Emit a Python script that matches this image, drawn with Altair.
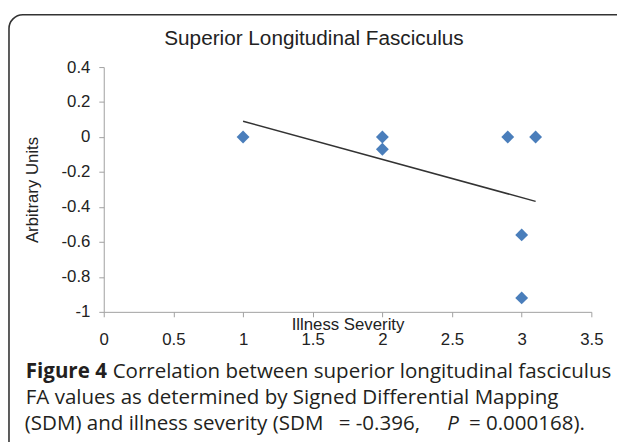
import altair as alt
import pandas as pd

# ---- data ----
severity = [1, 2, 2, 2.9, 3.1, 3, 3]
units = [0, 0, -0.07, 0, 0, -0.56, -0.92]
x_ticks = [0, 0.5, 1, 1.5, 2, 2.5, 3, 3.5]
y_ticks = [0.4, 0.2, 0, -0.2, -0.4, -0.6, -0.8, -1]
chart_title = "Superior Longitudinal Fasciculus"
x_title = "Illness Severity"
y_title = "Arbitrary Units"
cap1_bold = "Figure 4"
cap1_rest = "Correlation between superior longitudinal fasciculus"
cap2 = "FA values as determined by Signed Differential Mapping"
cap3_a = "(SDM) and illness severity (SDM"
cap3_b = "= -0.396,"
cap3_p = "P"
cap3_c = "= 0.000168)."

df = pd.DataFrame({"severity": severity, "units": units})

W, H = 494, 248
AXIS_FONT = "Liberation Sans"
CAP_FONT = "Open Sans"
CAP_COLOR = "#231f20"
CAP_SIZE = 20.8

x_enc = alt.X(
    "severity:Q",
    scale=alt.Scale(domain=[0, 3.5], nice=False, zero=False),
    axis=alt.Axis(values=x_ticks, title=x_title, tickSize=5, labelPadding=15,
                  format=".1~f", titleY=13, titleBaseline="middle", labelFlush=False),
)
y_enc = alt.Y(
    "units:Q",
    scale=alt.Scale(domain=[-1, 0.4], nice=False, zero=False),
    axis=alt.Axis(values=y_ticks, title=y_title, tickSize=5, labelPadding=9,
                  format=".1~f", titleX=-72, titleBaseline="middle", labelFlush=False,
                  labelExpr="replace(datum.label, '−', '-')"),
)

points = alt.Chart(df).mark_point(
    shape="diamond", filled=True, size=170, color="#4A7EBB", opacity=1
).encode(x=x_enc, y=y_enc)

trend = alt.Chart(df).transform_regression("severity", "units").mark_line(
    color="#333333", strokeWidth=1.5
).encode(x=x_enc, y=y_enc)


def text_mark(txt, x, y, size, font, weight="normal", style="normal", align="left", color=CAP_COLOR):
    return alt.Chart(pd.DataFrame({"t": [txt]})).mark_text(
        align=align, baseline="middle", fontSize=size, font=font,
        fontWeight=weight, fontStyle=style, color=color,
    ).encode(text="t:N", x=alt.value(x), y=alt.value(y))


frame = alt.Chart(pd.DataFrame({"a": [0]})).mark_rect(
    fillOpacity=0, stroke="#333333", strokeWidth=1.6, cornerRadius=14
).encode(x=alt.value(-96), x2=alt.value(660), y=alt.value(-53), y2=alt.value(460))

# text positions are relative to the plot origin (page x 105, y 65)
title = text_mark(chart_title, 213, -28, 21, AXIS_FONT, align="center", color="#222222")
c1a = text_mark(cap1_bold, -79, 309, CAP_SIZE, CAP_FONT, weight="bold")
c1b = text_mark(cap1_rest, 9, 309, CAP_SIZE, CAP_FONT)
c2 = text_mark(cap2, -79, 335, CAP_SIZE, CAP_FONT)
c3a = text_mark(cap3_a, -80, 362, CAP_SIZE, CAP_FONT)
c3b = text_mark(cap3_b, 238, 362, CAP_SIZE, CAP_FONT)
c3p = text_mark(cap3_p, 348, 362, CAP_SIZE, CAP_FONT, style="italic")
c3c = text_mark(cap3_c, 370, 362, CAP_SIZE, CAP_FONT)

chart = alt.layer(frame, trend, points, title, c1a, c1b, c2, c3a, c3b, c3p, c3c).properties(
    width=W, height=H,
    autosize=alt.AutoSizeParams(type="none"),
    padding={"left": 97, "top": 57, "right": 26, "bottom": 130},
).configure_view(stroke=None).configure_axis(
    grid=False,
    domainColor="#a0a0a0", tickColor="#a0a0a0",
    labelFont=AXIS_FONT, labelFontSize=17, labelColor="#222222",
    titleFont=AXIS_FONT, titleFontSize=17, titleColor="#222222", titleFontWeight="normal",
)

chart.save("out.html", embed_options={"renderer": "svg", "actions": False})
